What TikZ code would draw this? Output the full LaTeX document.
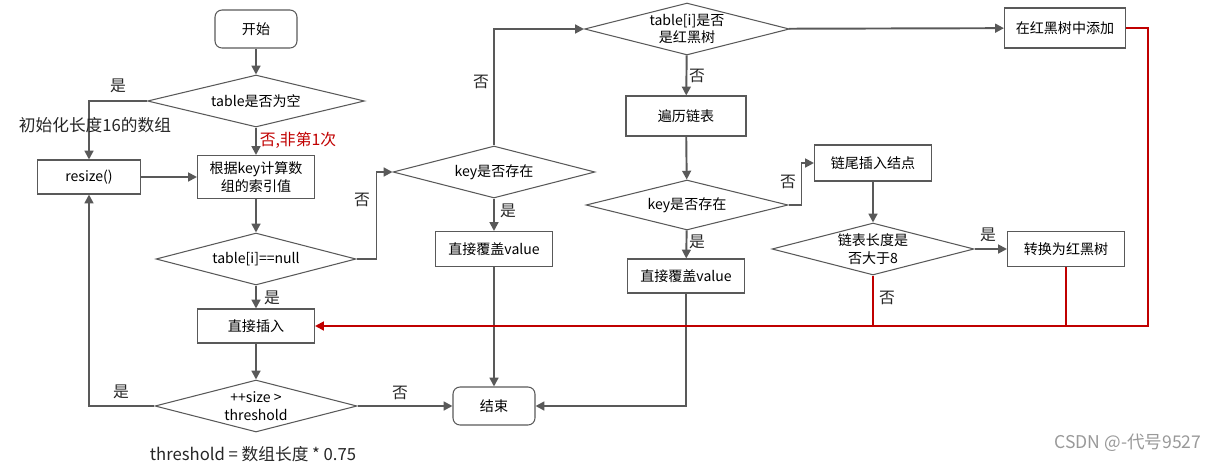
\documentclass[tikz,border=0pt]{standalone}
\usepackage{fontspec}
\setmainfont{Noto Sans CJK SC}
\usetikzlibrary{shapes.geometric}
\usetikzlibrary{arrows.meta}
\definecolor{linegray}{HTML}{595959}
\definecolor{linered}{HTML}{C00000}
\tikzset{box/.style={draw=linegray, line width=0.6pt, minimum width=2.34cm,
   minimum height=0.7cm, inner sep=1pt, align=center, font=\fontsize{8}{10}\selectfont},
 term/.style={box, rounded corners=4pt, minimum width=1.64cm, minimum height=0.76cm},
 decide/.style={diamond, aspect=4, draw=linegray, line width=0.6pt, minimum width=4.04cm,
   minimum height=1.04cm, inner sep=0pt, align=center, font=\fontsize{8}{10}\selectfont},
 flow/.style={draw=linegray, line width=1.1pt, -{Triangle[length=5pt,width=5pt]}},
 redflow/.style={draw=linered, line width=1.1pt, -{Triangle[length=5pt,width=5pt]}},
 redline/.style={draw=linered, line width=1.1pt},
 lbl/.style={font=\fontsize{9}{11}\selectfont, text=black!85, inner sep=0pt},
 }

\begin{document}
\begin{tikzpicture}[x=0.02cm, y=-0.02cm]
    \useasboundingbox (0,0) rectangle (1215,464);
    % left column
    \node[term] (start) at (256,29) {开始};
    \node[decide, minimum width=4.34cm] (empty) at (256,101) {table是否为空};
    \node[box, minimum width=2.06cm, minimum height=0.68cm] (resize) at (89,177) {resize()};
    \node[box, minimum height=0.86cm] (index) at (256,177) {根据key计算数\\组的索引值};
    \node[decide, minimum width=4.0cm] (isnull) at (256,259) {table[i]==null};
    \node[box, minimum height=0.68cm] (insert) at (256,326) {直接插入};
    \node[decide] (size) at (256,406) {++size >\\threshold};
    % middle
    \node[decide] (exists1) at (494,172) {key是否存在};
    \node[box] (cover1) at (494,249) {直接覆盖value};
    \node[term] (end) at (494,406) {结束};
    \node[decide, minimum width=4.1cm] (istree) at (687,29) {table[i]是否\\是红黑树};
    \node[box, minimum width=2.4cm, minimum height=0.8cm] (walk) at (686,116) {遍历链表};
    \node[decide, minimum height=1.0cm] (exists2) at (687,205) {key是否存在};
    \node[box, minimum height=0.68cm] (cover2) at (686,276) {直接覆盖value};
    % right
    \node[box, minimum height=0.72cm] (tail) at (873,163) {链尾插入结点};
    \node[decide] (longer) at (873,249) {链表长度是\\否大于8};
    \node[box] (convert) at (1066,249) {转换为红黑树};
    \node[box, minimum width=2.42cm, minimum height=0.8cm] (redtree) at (1065,28) {在红黑树中添加};
    \coordinate (join) at (1148,326);

    \draw[flow] (start) -- (empty);
    \draw[flow] (empty.west) -| (resize.north);
    \draw[flow] (empty) -- (index);
    \draw[flow] (resize) -- (index);
    \draw[flow] (index) -- (isnull);
    \draw[flow] (isnull) -- (insert);
    \draw[flow] (insert) -- (size);
    \draw[flow] (size.west) -| (resize.south);
    \draw[flow] (size) -- (end);
    \draw[flow] (isnull.east) -- ++(20,0) |- (exists1.west);
    \draw[flow] (exists1) -- (cover1);
    \draw[flow] (cover1) -- (end);
    \draw[flow] (exists1.north) |- (istree.west);
    \draw[flow] (istree) -- (redtree);
    \draw[flow] (istree) -- (walk);
    \draw[flow] (walk) -- (exists2);
    \draw[flow] (exists2) -- (cover2);
    \draw[flow] (cover2.south) |- (end.east);
    \draw[flow] (exists2.east) -- ++(13,0) |- (tail.west);
    \draw[flow] (tail) -- (longer);
    \draw[flow] (longer) -- (convert);
    \draw[redflow] (redtree.east) -| (join) -- (insert.east);
    \draw[redline] (longer.south) -- (longer.south |- join);
    \draw[redline] (convert.south) -- (convert.south |- join);

    % labels
    \node[lbl] (y1) at (118,86) {是};
    \node[lbl, font=\fontsize{9.5}{11}\selectfont] (init) at (95,125) {初始化长度16的数组};
    \node[lbl, text=linered] (n1) at (298,140) {否,非第1次};
    \node[lbl] (y2) at (272,298) {是};
    \node[lbl] (y3) at (121,392) {是};
    \node[lbl] (n2) at (400,393) {否};
    \node[lbl] (n3) at (362,200) {否};
    \node[lbl] (y4) at (508,211) {是};
    \node[lbl] (n4) at (481,82) {否};
    \node[lbl] (n5) at (697,76) {否};
    \node[lbl] (y5) at (697,242) {是};
    \node[lbl] (n6) at (788,182) {否};
    \node[lbl] (y6) at (988,235) {是};
    \node[lbl] (n7) at (887,298) {否};
    \node[lbl, font=\fontsize{9.5}{11}\selectfont] (thr) at (253,454) {threshold = 数组长度 * 0.75};
    \node[lbl, text=black!40, font=\fontsize{10}{12}\selectfont] (mark) at (1128,443) {CSDN @-代号9527};
\end{tikzpicture}
\end{document}
